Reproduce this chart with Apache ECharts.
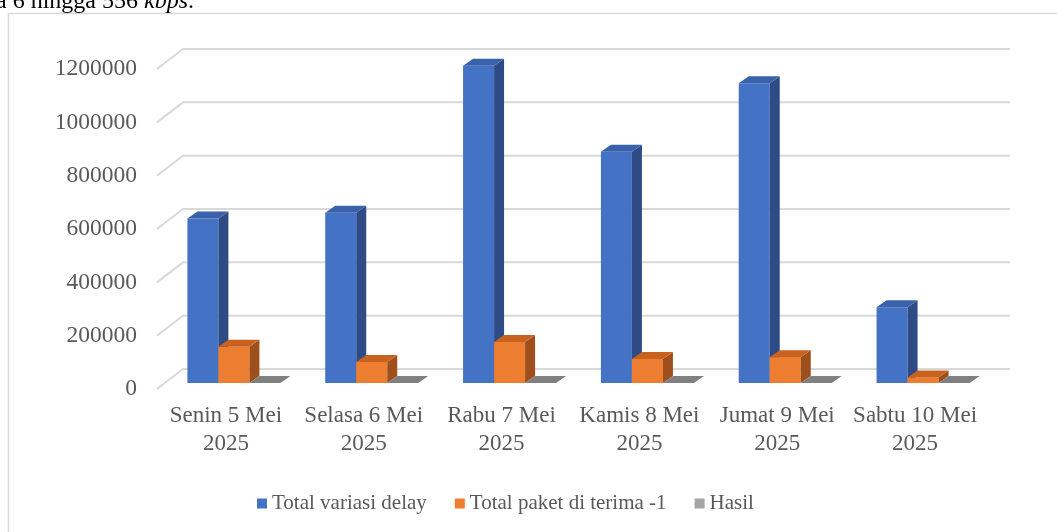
<!DOCTYPE html>
<html><head><meta charset="utf-8">
<script src="https://cdn.jsdelivr.net/npm/echarts@6/dist/echarts.min.js"></script>
<style>html,body{margin:0;padding:0;background:#fff;}#c{width:1057px;height:532px;}</style>
</head><body><div id="c"></div>
<script>
const categories = ["Senin 5 Mei\n2025","Selasa 6 Mei\n2025","Rabu 7 Mei\n2025","Kamis 8 Mei\n2025","Jumat 9 Mei\n2025","Sabtu 10 Mei\n2025"];
const totalVariasiDelay = [617000, 638000, 1190000, 867000, 1124000, 284000];
const totalPaketDiterima = [136000, 79000, 154000, 90000, 97000, 21000];
const hasil = [0, 0, 0, 0, 0, 0];
const yTicks = [0, 200000, 400000, 600000, 800000, 1000000, 1200000];
const seriesNames = ["Total variasi delay", "Total paket di terima -1", "Hasil"];

const faceColors = [
  {front:'#4472C4', top:'#3A62AA', side:'#2E4B85', legend:'#4472C4'},
  {front:'#ED7D31', top:'#C8621F', side:'#9E4F1C', legend:'#ED7D31'},
  {front:'#A5A5A5', top:'#808080', side:'#6E6E6E', legend:'#A5A5A5'}
];
const DX = 10, DY = -7, SX = 8, SY = -6;
const WDX = 26, WDY = -20;
const FONT = '"Liberation Serif", "DejaVu Serif", serif';

function barRenderer(s) {
  return function(params, api) {
    const i = api.value(0), v = api.value(1);
    const p0 = api.coord([i, 0]);
    const p1 = api.coord([i, v]);
    const band = api.size([1, 0])[0];
    const w = band * 0.225;
    const x0 = p0[0] - 1.5 * w + s * w + SX;
    const yb = p0[1] + SY, yt = p1[1] + SY;
    const c = faceColors[s];
    const children = [];
    if (yb - yt > 0.5) {
      children.push({type:'rect', shape:{x:x0, y:yt, width:w, height:yb-yt}, style:{fill:c.front}});
      children.push({type:'polygon', shape:{points:[[x0+w,yt],[x0+w+DX,yt+DY],[x0+w+DX,yb+DY],[x0+w,yb]]}, style:{fill:c.side}});
    }
    children.push({type:'polygon', shape:{points:[[x0,yt],[x0+DX,yt+DY],[x0+w+DX,yt+DY],[x0+w,yt]]}, style:{fill:c.top}});
    return {type:'group', children};
  };
}

function wallRenderer(params, api) {
  const v = api.value(1);
  const p = api.coord([0, v]);
  const cs = params.coordSys;
  const x = cs.x, y = p[1];
  return {type:'polyline', shape:{points:[[x,y],[x+WDX,y+WDY],[x+cs.width+WDX,y+WDY]]},
    style:{stroke:'#D9D9D9', lineWidth:2, fill:null}};
}

const chart = echarts.init(document.getElementById('c'), null, {renderer:'canvas'});
const mk = arr => arr.map((v, i) => [i, v]);
chart.setOption({
  animation: false,
  backgroundColor: '#fff',
  textStyle: {fontFamily: FONT},
  graphic: [
    {type:'rect', shape:{x:8.5, y:13.5, width:1100, height:600}, style:{fill:null, stroke:'#D9D9D9', lineWidth:1.5}, z:-10},
    {type:'text', x:-4, y:14, style:{text:'a 6 hingga 556 {i|kbps}.', font:'24px ' + FONT, fill:'#000', verticalAlign:'bottom',
      rich:{i:{fontStyle:'italic', fontSize:24, fontFamily:FONT, fill:'#000'}}}}
  ],
  grid: {left:157, right:73, top:69, bottom:143},
  legend: {
    data: seriesNames, left: 252, top: 488, itemWidth: 10, itemHeight: 10, itemGap: 28,
    icon: 'rect',
    textStyle: {fontFamily: FONT, fontSize: 21, color:'#595959'}
  },
  xAxis: {
    type:'category', data: categories,
    axisLine:{show:false}, axisTick:{show:false}, splitLine:{show:false},
    axisLabel:{interval:0, margin:13, fontSize:23, lineHeight:28, color:'#595959', fontFamily:FONT}
  },
  yAxis: {
    type:'value', min:0, max:1200000, interval:200000,
    axisLine:{show:false}, axisTick:{show:false}, splitLine:{show:false},
    axisLabel:{margin:20, fontSize:23.5, color:'#595959', fontFamily:FONT, formatter: v => String(v)}
  },
  series: [
    {type:'custom', name:'walls', renderItem: wallRenderer, data: yTicks.map(v => [0, v]), silent:true, z:1},
    {type:'custom', name: seriesNames[0], renderItem: barRenderer(0), data: mk(totalVariasiDelay), itemStyle:{color:faceColors[0].legend}, z:2},
    {type:'custom', name: seriesNames[1], renderItem: barRenderer(1), data: mk(totalPaketDiterima), itemStyle:{color:faceColors[1].legend}, z:3},
    {type:'custom', name: seriesNames[2], renderItem: barRenderer(2), data: mk(hasil), itemStyle:{color:faceColors[2].legend}, z:4}
  ]
});
</script></body></html>
